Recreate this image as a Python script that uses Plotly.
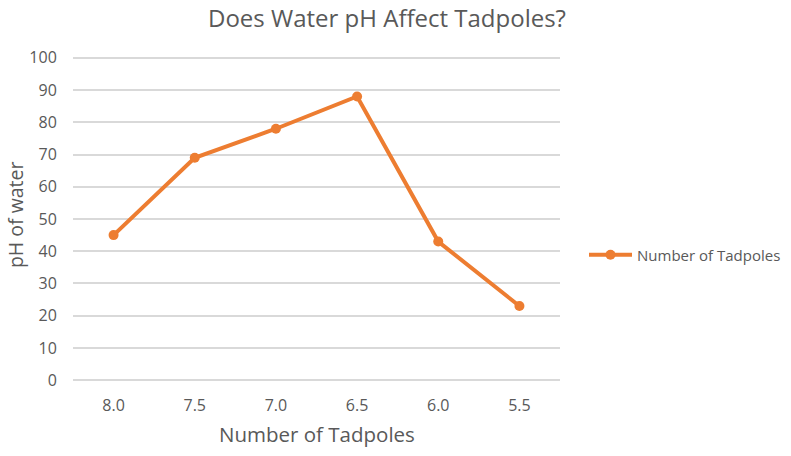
import plotly.graph_objects as go

categories = ["8.0", "7.5", "7.0", "6.5", "6.0", "5.5"]
tadpoles = [45, 69, 78, 88, 43, 23]
y_ticks = [0, 10, 20, 30, 40, 50, 60, 70, 80, 90, 100]

ORANGE = "#ED7D31"
GRID = "#D9D9D9"
TXT = "#595959"
FONT = "Open Sans, Calibri, sans-serif"

W, H = 791, 456

fig = go.Figure()
fig.add_trace(go.Scatter(
    x=categories, y=tadpoles, mode="lines+markers", name="Number of Tadpoles",
    line=dict(color=ORANGE, width=4),
    marker=dict(color=ORANGE, size=10),
))

fig.update_layout(
    width=W, height=H,
    margin=dict(l=73, r=231, t=53, b=71, autoexpand=False),
    paper_bgcolor="white", plot_bgcolor="white",
    font=dict(family=FONT, color=TXT),
    title=dict(text="Does Water pH Affect Tadpoles?", x=387 / W, xanchor="center",
               yref="container", y=1 - 19 / H, yanchor="middle",
               font=dict(size=24, color=TXT)),
    xaxis=dict(type="category", range=[-0.5, len(categories) - 0.5],
               showgrid=False, showline=False, zeroline=False,
               automargin=False,
               ticks="outside", ticklen=6, tickcolor="rgba(0,0,0,0)",
               tickfont=dict(size=16, color=TXT)),
    yaxis=dict(range=[-1.5, 101.5], tickvals=y_ticks, showgrid=True, gridcolor=GRID, gridwidth=1.5,
               zeroline=False, showline=False, automargin=False,
               ticks="outside", ticklen=12, tickcolor="rgba(0,0,0,0)",
               tickfont=dict(size=16, color=TXT)),
    annotations=[
        dict(text="Number of Tadpoles", xref="paper", yref="paper", x=0.501, y=-0.1476,
             xanchor="center", yanchor="middle", showarrow=False,
             font=dict(size=20.5, color=TXT)),
        dict(text="pH of water", xref="paper", yref="paper", x=-0.119, y=0.512,
             xanchor="center", yanchor="middle", showarrow=False, textangle=-90,
             font=dict(size=19.5, color=TXT)),
    ],
    showlegend=True,
    legend=dict(xref="container", yref="container", x=584 / W, y=1 - 255 / H,
                xanchor="left", yanchor="middle", itemwidth=43,
                font=dict(size=15, color=TXT), bgcolor="rgba(0,0,0,0)"),
)

fig.write_html("out.html", config={"displayModeBar": False},
               post_script="document.body.style.margin='0';")
